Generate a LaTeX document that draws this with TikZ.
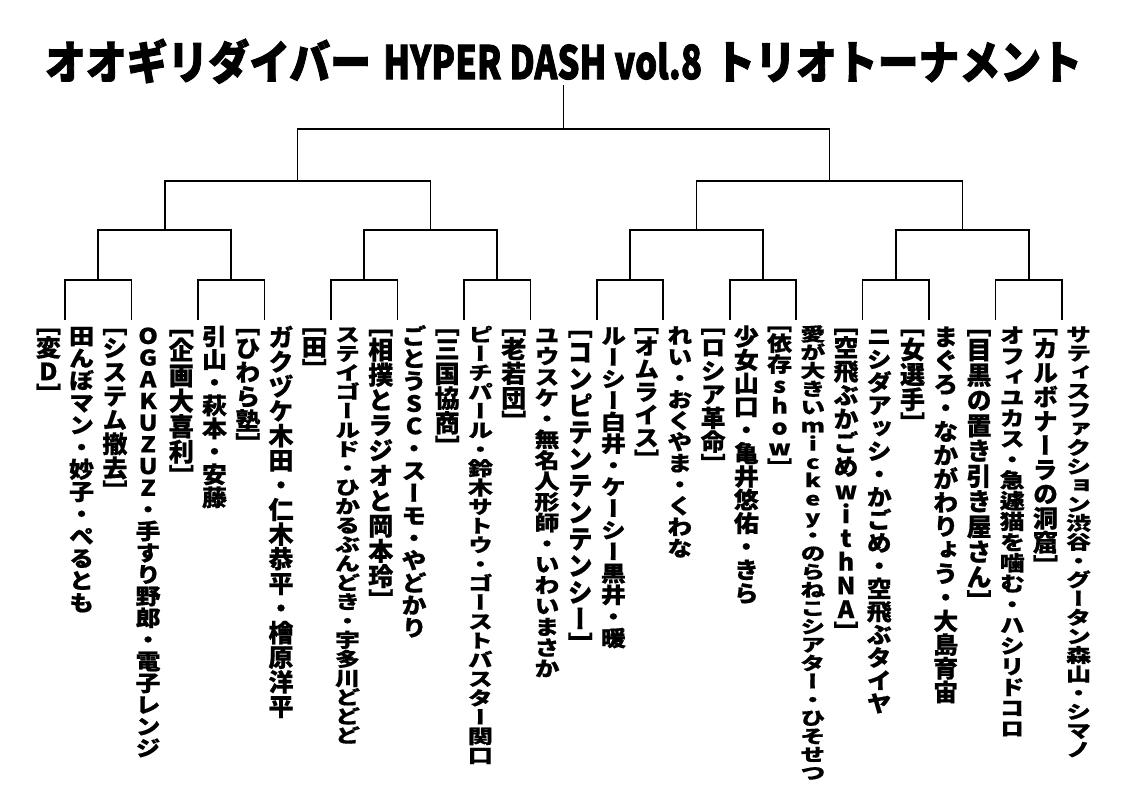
\documentclass[tikz,border=0pt]{standalone}
\usepackage{fontspec}
\usepackage{graphicx}
\usepackage{tikz}

\newfontfamily\jpfont{Noto Sans CJK JP}[Script=CJK,BoldFeatures={FakeBold=2}]
\newfontfamily\tatefont{Noto Sans CJK JP}[Script=CJK,RawFeature=+vert,BoldFeatures={FakeBold=0.6}]

% one character per cell, stacked top to bottom
\def\tateend{\tateend}
\def\tatecell#1{\hbox to 1em{\hss\vrule height .88em depth .12em width 0pt\smash{#1}\hss}}
\def\tateloop#1{\ifx#1\tateend\else\tatecell{#1}\expandafter\tateloop\fi}
\newcommand\tate[2]{\resizebox*{\width}{#1}{\vbox{\offinterlineskip\tateloop#2\tateend}}}

\begin{document}
\begin{tikzpicture}[x=1pt, y=-1pt, line width=1.6pt,
    tate/.style={inner sep=0pt, anchor=north, font=\tatefont\bfseries\fontsize{25}{25}\selectfont}]

    \useasboundingbox (0,0) rectangle (1122,793);
    \fill[white] (0,0) rectangle (1122,793);

    % Title
    \node[inner sep=0pt, anchor=north, font=\jpfont\bfseries\fontsize{50}{50}\selectfont] (ttl) at (563.5,38)
        {\resizebox*{1037pt}{45pt}{オオギリダイバー\hspace{0.3em}\scalebox{0.85}[1]{HYPER DASH vol.8}\hspace{0.3em}トリオトーナメント}};

    % bracket points
    \coordinate (top) at (563.5,129);
    \coordinate (s0) at (297.6,181);
    \coordinate (s1) at (829.4,181);
    \coordinate (h0) at (164.7,230);
    \coordinate (h1) at (430.6,230);
    \coordinate (h2) at (696.5,230);
    \coordinate (h3) at (962.4,230);
    \coordinate (q0) at (98.2,280);
    \coordinate (q1) at (231.2,280);
    \coordinate (q2) at (364.1,280);
    \coordinate (q3) at (497.1,280);
    \coordinate (q4) at (630,280);
    \coordinate (q5) at (762.9,280);
    \coordinate (q6) at (895.9,280);
    \coordinate (q7) at (1028.8,280);
    \coordinate (lf0) at (65,320);
    \coordinate (lf1) at (131.5,320);
    \coordinate (lf2) at (197.9,320);
    \coordinate (lf3) at (264.4,320);
    \coordinate (lf4) at (330.9,320);
    \coordinate (lf5) at (397.4,320);
    \coordinate (lf6) at (463.8,320);
    \coordinate (lf7) at (530.3,320);
    \coordinate (lf8) at (596.8,320);
    \coordinate (lf9) at (663.2,320);
    \coordinate (lf10) at (729.7,320);
    \coordinate (lf11) at (796.2,320);
    \coordinate (lf12) at (862.6,320);
    \coordinate (lf13) at (929.1,320);
    \coordinate (lf14) at (995.6,320);
    \coordinate (lf15) at (1062,320);

    % Bracket
    \draw (top) -- (top |- ttl.south);
    \draw (s0) |- (top) -| (s1);
    \draw (h0) |- (s0) -| (h1);
    \draw (h2) |- (s1) -| (h3);
    \draw (q0) |- (h0) -| (q1);
    \draw (q2) |- (h1) -| (q3);
    \draw (q4) |- (h2) -| (q5);
    \draw (q6) |- (h3) -| (q7);
    \draw (lf0) |- (q0) -| (lf1);
    \draw (lf2) |- (q1) -| (lf3);
    \draw (lf4) |- (q2) -| (lf5);
    \draw (lf6) |- (q3) -| (lf7);
    \draw (lf8) |- (q4) -| (lf9);
    \draw (lf10) |- (q5) -| (lf11);
    \draw (lf12) |- (q6) -| (lf13);
    \draw (lf14) |- (q7) -| (lf15);

    % Teams
    \node[tate] (team0) at (48.4,311) {\tate{95pt}{［変D］}};
    \node[tate] (mem0) at (81.6,324) {\tate{289pt}{田んぼマン・妙子・ぺるとも}};
    \node[tate] (team1) at (114.9,311) {\tate{192pt}{［システム撤去］}};
    \node[tate] (mem1) at (148.1,324) {\tate{434pt}{OGAKUZUZ・手すり野郎・電子レンジ}};
    \node[tate] (team2) at (181.3,311) {\tate{178pt}{［企画大喜利］}};
    \node[tate] (mem2) at (214.5,324) {\tate{184pt}{引山・萩本・安藤}};
    \node[tate] (team3) at (247.8,311) {\tate{145pt}{［ひわら塾］}};
    \node[tate] (mem3) at (281,324) {\tate{394pt}{ガクヅケ木田・仁木恭平・檜原洋平}};
    \node[tate] (team4) at (314.3,311) {\tate{70pt}{［田］}};
    \node[tate] (mem4) at (347.5,324) {\tate{420pt}{ステイゴールド・ひかるぶんどき・宇多川どどど}};
    \node[tate] (team5) at (380.8,311) {\tate{302pt}{［相撲とラジオと岡本玲］}};
    \node[tate] (mem5) at (414,324) {\tate{314pt}{ごとうSC・スーモ・やどかり}};
    \node[tate] (team6) at (447.2,311) {\tate{148pt}{［三国協商］}};
    \node[tate] (mem6) at (480.4,324) {\tate{440pt}{ピーチパール・鈴木サトウ・ゴーストバスター関口}};
    \node[tate] (team7) at (513.7,311) {\tate{123pt}{［老若団］}};
    \node[tate] (mem7) at (547,324) {\tate{354pt}{ユウスケ・無名人形師・いわいまさか}};
    \node[tate] (team8) at (580.2,311) {\tate{347pt}{［コンピテンテンテンシー］}};
    \node[tate] (mem8) at (613.4,324) {\tate{324pt}{ルーシー白井・ケーシー黒井・暖}};
    \node[tate] (team9) at (646.6,311) {\tate{160pt}{［オムライス］}};
    \node[tate] (mem9) at (679.8,324) {\tate{234pt}{れい・おくやま・くわな}};
    \node[tate] (team10) at (713.1,311) {\tate{165pt}{［ロシア革命］}};
    \node[tate] (mem10) at (746.3,324) {\tate{280pt}{少女山口・亀井悠佑・きら}};
    \node[tate] (team11) at (779.6,311) {\tate{167pt}{［依存show］}};
    \node[tate] (mem11) at (812.8,324) {\tate{457pt}{愛が大きいmickey・のらねこシアター・ひそせつ}};
    \node[tate] (team12) at (846,311) {\tate{333pt}{［空飛ぶかごめwithNA］}};
    \node[tate] (mem12) at (879.2,324) {\tate{390pt}{ニシダアッシ・かごめ・空飛ぶタイヤ}};
    \node[tate] (team13) at (912.5,311) {\tate{125pt}{［女選手］}};
    \node[tate] (mem13) at (945.7,324) {\tate{379pt}{まぐろ・なかがわりょう・大島育宙}};
    \node[tate] (team14) at (979,311) {\tate{303pt}{［目黒の置き引き屋さん］}};
    \node[tate] (mem14) at (1012.2,324) {\tate{414pt}{オフィユカス・急遽猫を噛む・ハシリドコロ}};
    \node[tate] (team15) at (1045.4,311) {\tate{267pt}{［カルボナーラの洞窟］}};
    \node[tate] (mem15) at (1078.6,324) {\tate{434pt}{サティスファクション渋谷・グータン森山・シマノ}};

\end{tikzpicture}
\end{document}
